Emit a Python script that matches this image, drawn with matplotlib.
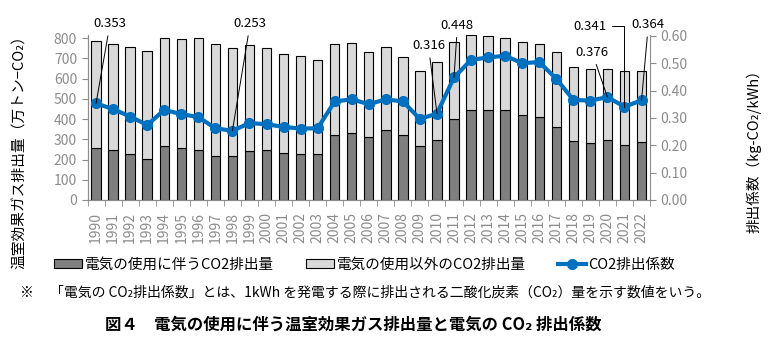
#!/usr/bin/env python3
# -*- coding: utf-8 -*-
'''
電気の使用に伴う温室効果ガス排出量と電気の CO2 排出係数 (図4)
'''
import numpy as np
import matplotlib
matplotlib.use('Agg')
import matplotlib.pyplot as plt
from matplotlib.lines import Line2D
from matplotlib.patches import Patch

plt.rcParams['font.family'] = ['Noto Sans CJK JP', 'DejaVu Sans']

years = list(range(1990, 2023))
# 電気の使用に伴うCO2排出量 (万トン-CO2)
elec = [255, 245, 225, 201, 265, 255, 245, 216, 216, 240, 245, 230, 225, 225,
        319, 329, 309, 344, 319, 267, 295, 400, 443, 443, 443, 418, 408, 359,
        290, 280, 295, 270, 285]
# 合計 (電気 + 電気以外)
total = [785, 769, 754, 736, 798, 793, 798, 769, 749, 764, 749, 719, 709, 690,
         769, 774, 729, 754, 708, 637, 680, 779, 815, 810, 798, 779, 769, 729,
         655, 645, 645, 635, 635]
other = [t - e for t, e in zip(total, elec)]
# CO2排出係数 (kg-CO2/kWh)
factor = [0.353, 0.332, 0.305, 0.274, 0.329, 0.314, 0.303, 0.262, 0.253, 0.281,
          0.277, 0.267, 0.261, 0.262, 0.360, 0.368, 0.350, 0.368, 0.360, 0.296,
          0.316, 0.448, 0.512, 0.521, 0.527, 0.500, 0.504, 0.443, 0.366, 0.363,
          0.376, 0.341, 0.364]

# labelled years -> (text x in slots, text y on right axis)
labels = {1990: (0.82, 0.644), 1998: (9.04, 0.644), 2010: (19.5, 0.563),
          2011: (21.2, 0.638), 2020: (29.1, 0.539), 2021: (28.95, 0.634),
          2022: (32.4, 0.640)}

DARK = '#7f7f7f'
LIGHT = '#d9d9d9'
BLUE = '#0070c0'
GRAY = '#8c8c8c'

fig = plt.figure(figsize=(7.8, 3.45), dpi=100)
ax = fig.add_axes([0.1122, 0.4203, 0.7212, 0.4783])
ax2 = ax.twinx()

x = np.arange(len(years))
ax.bar(x, elec, width=0.55, color=DARK, edgecolor='black', linewidth=0.8, zorder=2)
ax.bar(x, other, width=0.55, bottom=elec, color=LIGHT, edgecolor='black', linewidth=0.8, zorder=2)

ax.set_xlim(-0.5, len(years) - 0.5)
ax.set_ylim(0, 815)
ax.set_yticks(range(0, 801, 100))
ax.set_xticks(x)
ax.set_xticklabels([str(y) for y in years], rotation=90, fontsize=10, color=GRAY)
ax.set_xticks(np.arange(-0.5, len(years), 1), minor=True)
ax.tick_params(axis='x', which='major', length=0, pad=9)
ax.tick_params(axis='x', which='minor', length=4, color=GRAY, direction='out')
ax.tick_params(axis='y', labelsize=10, labelcolor=GRAY, color=GRAY, length=4)
ax.set_ylabel('温室効果ガス排出量（万トン−CO₂）', fontsize=10.6)
ax.yaxis.set_label_coords(-0.108, 0.31)

ax2.plot(x, factor, color=BLUE, lw=3, marker='o', ms=7, zorder=3)
ax2.set_ylim(0, 0.603)
ax2.set_yticks(np.arange(0, 0.61, 0.1))
ax2.set_yticklabels(['{:.2f}'.format(v) for v in np.arange(0, 0.61, 0.1)])
ax2.tick_params(axis='y', labelsize=10, labelcolor=GRAY, color=GRAY, length=4)
ax2.set_ylabel('排出係数（kg-CO₂/kWh）', fontsize=10.5)
ax2.yaxis.set_label_coords(1.17, 0.318)

for a in (ax, ax2):
    a.spines['top'].set_visible(False)
    for s in ('left', 'right', 'bottom'):
        a.spines[s].set_color(GRAY)
ax.spines['right'].set_visible(False)

for yr, (tx, ty) in labels.items():
    i = years.index(yr)
    style = 'angle,angleA=0,angleB=90,rad=0' if yr == 2021 else 'arc3'
    ax2.annotate('{:.3f}'.format(factor[i]), xy=(i, factor[i]), xytext=(tx, ty),
                 ha='center', va='center', fontsize=9.5, annotation_clip=False,
                 arrowprops=dict(arrowstyle='-', color='black', lw=0.7,
                                 connectionstyle=style, shrinkA=2, shrinkB=0))

handles = [Patch(facecolor=DARK, edgecolor='black', linewidth=0.8),
           Patch(facecolor=LIGHT, edgecolor='black', linewidth=0.8),
           Line2D([0], [0], color=BLUE, lw=3, marker='o', ms=7)]
fig.legend(handles, ['電気の使用に伴うCO2排出量', '電気の使用以外のCO2排出量', 'CO2排出係数'],
           loc='center left', bbox_to_anchor=(0.062, 0.232), ncol=3, frameon=False,
           fontsize=10.5, handlelength=1.9, handleheight=0.55, handletextpad=0.2,
           columnspacing=2.2, borderaxespad=0)

fig.text(20 / 780, 1 - 293 / 345, '※', fontsize=10, va='center')
fig.text(50 / 780, 1 - 293 / 345,
         '「電気の CO₂排出係数」とは、1kWh を発電する際に排出される二酸化炭素（CO₂）量を示す数値をいう。',
         fontsize=10, va='center')
fig.text(105 / 780, 1 - 325 / 345,
         '図４　電気の使用に伴う温室効果ガス排出量と電気の CO₂ 排出係数',
         fontsize=11.8, fontweight='bold', va='center')

fig.savefig('out.png', dpi=100)
